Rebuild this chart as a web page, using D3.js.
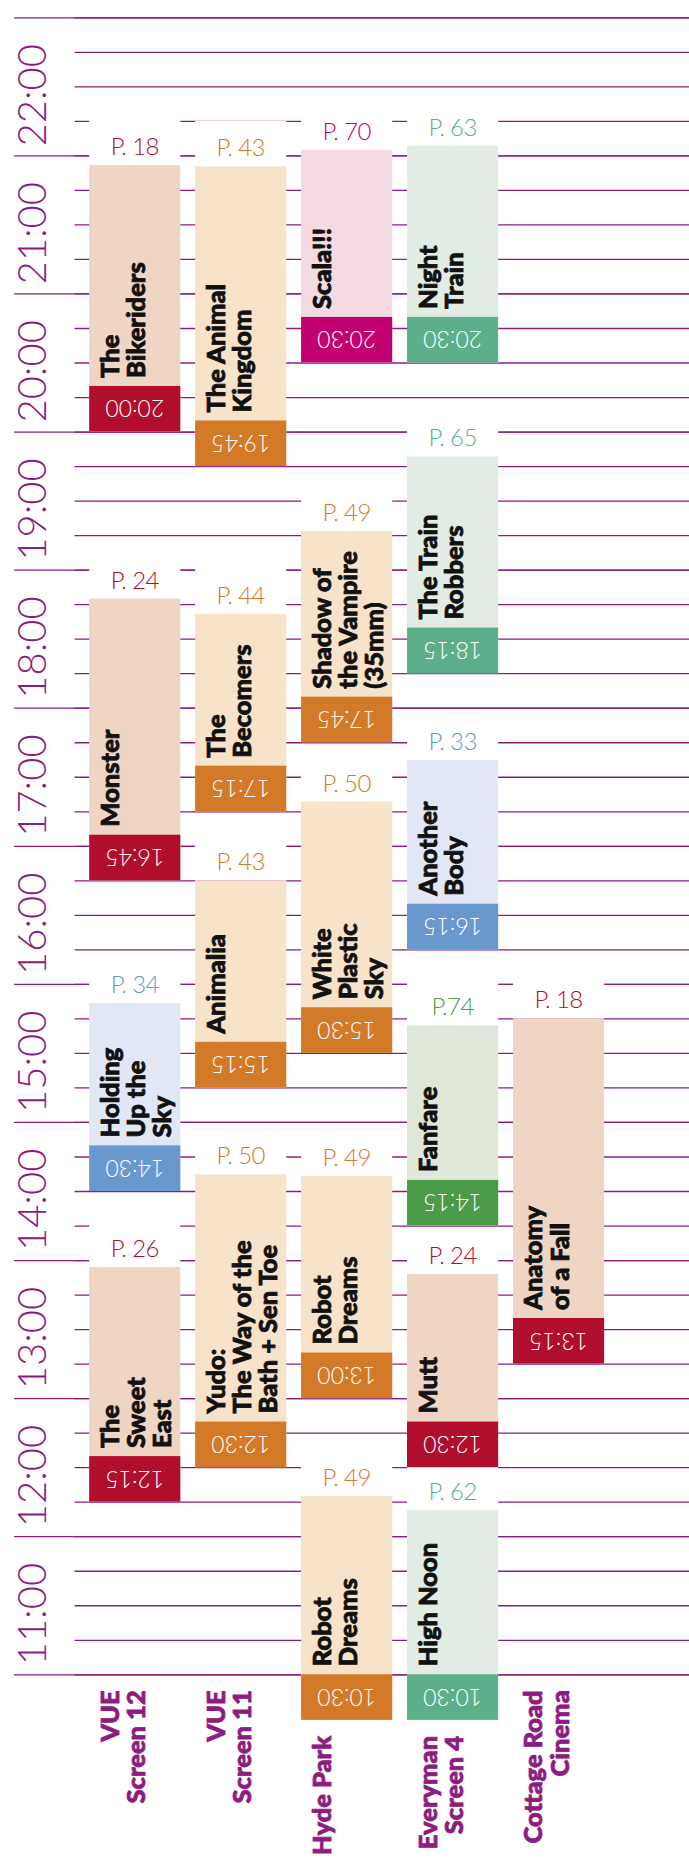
<!DOCTYPE html>
<html>
<head>
<meta charset="utf-8">
<script src="https://cdn.jsdelivr.net/npm/d3@7"></script>
<style>
  body { margin: 0; background: #fff; }
  svg { display: block; }
</style>
</head>
<body>
<script>
// venues along the bottom, left to right
const venues = [
    ["VUE", "Screen 12"],
    ["VUE", "Screen 11"],
    ["Hyde Park"],
    ["Everyman", "Screen 4"],
    ["Cottage Road", "Cinema"]
];

// hour grid (23:00 at the top, 11:00 at the bottom)
const hours = [23, 22, 21, 20, 19, 18, 17, 16, 15, 14, 13, 12, 11];
const hourLabels = ["", "22:00", "21:00", "20:00", "19:00", "18:00", "17:00", "16:00", "15:00", "14:00", "13:00", "12:00", "11:00"];
const quarters = [
    23, 22.75, 22.5, 22.25, 22, 21.75, 21.5, 21.25, 21, 20.75, 20.5, 20.25, 20,
    19.75, 19.5, 19.25, 19, 18.75, 18.5, 18.25, 18, 17.75, 17.5, 17.25, 17,
    16.75, 16.5, 16.25, 16, 15.75, 15.5, 15.25, 15, 14.75, 14.5, 14.25, 14,
    13.75, 13.5, 13.25, 13, 12.75, 12.5, 12.25, 12, 11.75, 11.5, 11.25, 11
];

// screenings
const titles = [
    ["The", "Bikeriders"], ["The Animal", "Kingdom"], ["Scala!!!"], ["Night", "Train"],
    ["The Train", "Robbers"], ["Monster"], ["The", "Becomers"], ["Shadow of", "the Vampire", "(35mm)"],
    ["Another", "Body"], ["White", "Plastic", "Sky"], ["Animalia"], ["Holding", "Up the", "Sky"],
    ["Fanfare"], ["Anatomy", "of a Fall"], ["Yudo:", "The Way of the", "Bath + Sen Toe"], ["Robot", "Dreams"],
    ["The", "Sweet", "East"], ["Mutt"], ["Robot", "Dreams"], ["High Noon"]
];
const venueIdx = [0, 1, 2, 3, 3, 0, 1, 2, 3, 2, 1, 0, 3, 4, 1, 2, 0, 3, 2, 3];
const pages = ["P. 18", "P. 43", "P. 70", "P. 63", "P. 65", "P. 24", "P. 44", "P. 49", "P. 33", "P. 50",
    "P. 43", "P. 34", "P.74", "P. 18", "P. 50", "P. 49", "P. 26", "P. 24", "P. 49", "P. 62"];
const startLabels = ["20:00", "19:45", "20:30", "20:30", "18:15", "16:45", "17:15", "17:45", "16:15", "15:30",
    "15:15", "14:30", "14:15", "13:15", "12:30", "13:00", "12:15", "12:30", "10:30", "10:30"];
// where each block sits on the hour scale
const starts = [20, 19.75, 20.5, 20.5, 18.25, 16.75, 17.25, 17.75, 16.25, 15.5,
    15.25, 14.5, 14.25, 13.25, 12.5, 13, 12.25, 12.5, 10.67, 10.67];
const ends = [21.93, 21.92, 22.04, 22.07, 19.82, 18.79, 18.68, 19.28, 17.62, 17.32,
    16.75, 15.86, 15.70, 15.75, 14.62, 14.61, 13.95, 13.90, 12.29, 12.19];
const cats = ["red", "orange", "magenta", "teal", "teal", "red", "orange", "orange", "blue", "orange",
    "orange", "blue", "green", "red", "orange", "orange", "red", "red", "orange", "teal"];

const light = { red: "#efd5c3", orange: "#f6e3ca", magenta: "#f3dae3", teal: "#e1ede4", blue: "#e1e7f5", green: "#dfe8d8" };
const dark = { red: "#b10d2c", orange: "#d27a27", magenta: "#c3006f", teal: "#5daf8a", blue: "#6998cf", green: "#4b9b48" };

const width = 689, height = 1858;
const purple = "#8e1c80";
const bandH = 45.6;

const svg = d3.select("body").append("svg")
    .attr("width", width)
    .attr("height", height);

// scales
const y = d3.scaleLinear().domain([23, 11]).range([17.3, 1674.3]);
const x = d3.scaleBand().domain(d3.range(venues.length)).range([89.2, 604.1]).paddingInner(0.14);

// quarter-hour grid
svg.append("g")
    .attr("transform", `translate(${width},0)`)
    .call(d3.axisLeft(y).tickValues(quarters).tickSize(width - 74.5).tickFormat(""))
    .call(g => g.select(".domain").remove())
    .call(g => g.selectAll("line").attr("stroke", purple).attr("stroke-width", 1.3));

// hour grid, reaching further left
svg.append("g")
    .attr("transform", `translate(${width},0)`)
    .call(d3.axisLeft(y).tickValues(hours).tickSize(width - 14).tickFormat(""))
    .call(g => g.select(".domain").remove())
    .call(g => g.selectAll("line").attr("stroke", purple).attr("stroke-width", 1.3));

// hour labels
svg.append("g").selectAll("text")
    .data(hours)
    .join("text")
    .attr("transform", d => `translate(46,${y(d) - 9}) rotate(-90)`)
    .attr("font-family", "Lato")
    .attr("font-weight", 300)
    .attr("font-size", 40)
    .attr("fill", purple)
    .text((d, i) => hourLabels[i]);

const shows = d3.range(titles.length);

// white patch behind the page number
svg.append("g").selectAll("rect")
    .data(shows)
    .join("rect")
    .attr("x", i => x(venueIdx[i]))
    .attr("y", i => y(ends[i]) - bandH)
    .attr("width", x.bandwidth())
    .attr("height", bandH)
    .attr("fill", "#fff");

svg.append("g").selectAll("text")
    .data(shows)
    .join("text")
    .attr("x", i => x(venueIdx[i]) + x.bandwidth() / 2)
    .attr("y", i => y(ends[i]) - 10)
    .attr("text-anchor", "middle")
    .attr("font-family", "Lato")
    .attr("font-weight", 300)
    .attr("font-size", 24)
    .attr("letter-spacing", -0.6)
    .attr("fill", i => dark[cats[i]])
    .text(i => pages[i]);

// film blocks
svg.append("g").selectAll("rect")
    .data(shows)
    .join("rect")
    .attr("x", i => x(venueIdx[i]))
    .attr("y", i => y(ends[i]))
    .attr("width", x.bandwidth())
    .attr("height", i => y(starts[i]) - y(ends[i]))
    .attr("fill", i => light[cats[i]]);

// start time bands
svg.append("g").selectAll("rect")
    .data(shows)
    .join("rect")
    .attr("x", i => x(venueIdx[i]))
    .attr("y", i => y(starts[i]) - bandH)
    .attr("width", x.bandwidth())
    .attr("height", bandH)
    .attr("fill", i => dark[cats[i]]);

// start times, upside down
svg.append("g").selectAll("text")
    .data(shows)
    .join("text")
    .attr("transform", i => `translate(${x(venueIdx[i]) + x.bandwidth() / 2},${y(starts[i]) - bandH / 2}) rotate(180)`)
    .attr("dy", "0.36em")
    .attr("text-anchor", "middle")
    .attr("font-family", "Lato")
    .attr("font-weight", 300)
    .attr("font-size", 23)
    .attr("fill", "#fff")
    .text(i => startLabels[i]);

// titles, reading upwards
const titleText = svg.append("g").selectAll("text")
    .data(shows)
    .join("text")
    .attr("transform", i => `translate(${x(venueIdx[i]) + 29.5},${y(starts[i]) - bandH - 8}) rotate(-90)`)
    .attr("font-family", "Lato")
    .attr("font-weight", 900)
    .attr("font-size", 25.5)
    .attr("fill", "#111")
    .attr("stroke", "#111")
    .attr("stroke-width", 0.8);

titleText.selectAll("tspan")
    .data(i => titles[i])
    .join("tspan")
    .attr("x", 0)
    .attr("dy", (d, j) => j === 0 ? 0 : 26.4)
    .text(d => d);

// venue names
const colBottom = venues.map((v, k) =>
    d3.max(shows.filter(i => venueIdx[i] === k), i => y(starts[i])));

const venueText = svg.append("g").selectAll("text")
    .data(venues)
    .join("text")
    .attr("transform", (d, k) => `translate(${x(k) + 29.5},${Math.max(y(11), colBottom[k]) + 16}) rotate(-90)`)
    .attr("text-anchor", "end")
    .attr("font-family", "Lato")
    .attr("font-weight", 900)
    .attr("font-size", 25.5)
    .attr("fill", purple)
    .attr("stroke", purple)
    .attr("stroke-width", 0.8);

venueText.selectAll("tspan")
    .data(d => d)
    .join("tspan")
    .attr("x", 0)
    .attr("dy", (d, j) => j === 0 ? 0 : 26.4)
    .text(d => d);
</script>
</body>
</html>
